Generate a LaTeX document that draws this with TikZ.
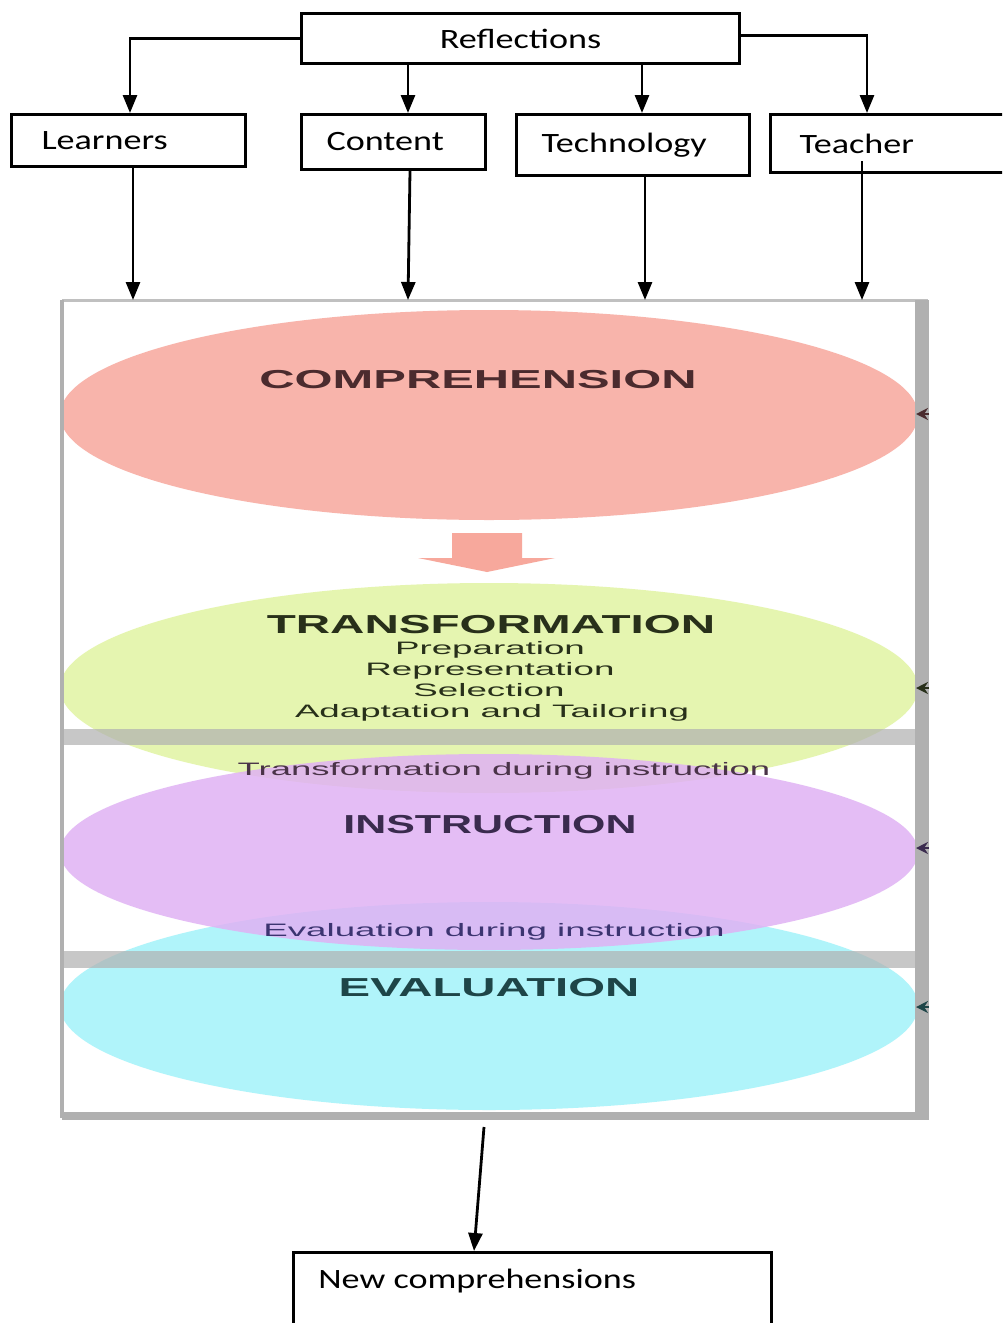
\documentclass[tikz,border=0pt]{standalone}
\usepackage{fontspec}
\usepackage{graphicx}
\usetikzlibrary{arrows.meta,calc}
\newfontfamily\boxfont{Carlito}
\newfontfamily\lblfont{Liberation Sans}
% horizontally widened text
\newcommand\hwide[2]{\scalebox{#1}[1]{#2}}
\newcommand\bx[1]{\scalebox{1.29}[1]{#1}}

\definecolor{pinkfill}{HTML}{F8B4AB}
\definecolor{pinkarrow}{HTML}{F7A89C}
\definecolor{greenfill}{HTML}{E4F5AC}
\definecolor{violetfill}{HTML}{E0B2F4}
\definecolor{cyanfill}{HTML}{ACF4FA}
\definecolor{panelgray}{HTML}{B0B0B0}
\definecolor{compink}{HTML}{4B2B2E}
\definecolor{transgreen}{HTML}{28301A}
\definecolor{instrviolet}{HTML}{3A2B4E}
\definecolor{tdiviolet}{HTML}{4A3348}
\definecolor{ediviolet}{HTML}{3B3470}
\definecolor{evalteal}{HTML}{1E4548}

\begin{document}
\begin{tikzpicture}[x=0.5pt,y=-0.5pt,
  box/.style={draw=black, line width=1.5pt, fill=white, anchor=north west,
    inner ysep=0pt, align=left, font=\boxfont\fontsize{14pt}{16pt}\selectfont},
  arr/.style={line width=1.4pt, -{Triangle[length=9pt,width=7pt]}},
  heading/.style={font=\lblfont\bfseries\fontsize{13pt}{15pt}\selectfont, anchor=base, inner sep=0pt},
  subline/.style={font=\lblfont\fontsize{9pt}{11pt}\selectfont, anchor=base, inner sep=0pt},
  tip/.style={line width=1pt, -{Stealth[length=6pt,width=6pt]}},
]
\useasboundingbox (0,0) rectangle (1002,1323);
\clip (0,0) rectangle (1002,1323);

% ---------- top boxes ----------
\node[box, minimum width=219pt, minimum height=25pt, text width=219pt, inner xsep=0pt, align=center]
  (refl) at (300,12) {\bx{Reflections}};
\node[box, minimum height=26pt, text width=87pt, inner xsep=15pt] (learn) at (10,113) {\bx{Learners}};
\node[box, minimum height=27.5pt, text width=67pt, inner xsep=12.5pt] (cont) at (300,113) {\bx{Content}};
\node[box, minimum height=30.5pt, text width=91.5pt, inner xsep=12.5pt] (tech) at (515,113) {\bx{Technology}};
\node[box, minimum height=29pt, text width=101pt, inner xsep=14.5pt] (teach) at (769,113) {\bx{Teacher}};

% ---------- phase panel ----------
\coordinate (ftop) at (62,300);
\fill[white] (62,300) rectangle (928,1118);

% phases
\fill[pinkfill] (489,415) ellipse [x radius=429, y radius=105];
\fill[greenfill, fill opacity=0.95] (489,688) ellipse [x radius=429, y radius=105];
\fill[cyanfill, fill opacity=0.95] (489,1006) ellipse [x radius=429, y radius=104];
\fill[violetfill, fill opacity=0.85] (489,852) ellipse [x radius=429, y radius=98];

% block arrow between comprehension and transformation
\fill[pinkarrow] (452,533) -- (522,533) -- (522,558) -- (555,558) -- (487,572)
  -- (418,558) -- (452,558) -- cycle;

% panel borders and dividers
\draw[panelgray!80, line width=1.5pt] (62,300) -- (928,300);
\draw[panelgray, line width=1.6pt] (62,300) -- (62,1118);
\fill[panelgray, opacity=0.7] (62,729) rectangle (928,745);
\fill[panelgray, opacity=0.7] (62,951) rectangle (928,968);
\fill[panelgray] (62,1112) rectangle (929,1120);
\fill[panelgray] (915,300) rectangle (929,1120);

% small tips at the right ends of the phases
\draw[tip, compink] (929,414) -- (916,414);
\draw[tip, transgreen] (929,688) -- (916,688);
\draw[tip, instrviolet] (929,848) -- (916,848);
\draw[tip, evalteal] (929,1007) -- (916,1007);

% phase labels
\node[heading, text=compink] (tcomp) at (478,388) {\hwide{1.88}{COMPREHENSION}};
\node[heading, text=transgreen] (ttrans) at (491,633) {\hwide{1.83}{TRANSFORMATION}};
\node[subline, text=transgreen] (tprep) at (490,654) {\hwide{2.04}{Preparation}};
\node[subline, text=transgreen] (trepr) at (490,675) {\hwide{2.04}{Representation}};
\node[subline, text=transgreen] (tsel) at (489,696) {\hwide{2.04}{Selection}};
\node[subline, text=transgreen] (tadap) at (492,717) {\hwide{2.04}{Adaptation and Tailoring}};
\node[subline, text=tdiviolet] (ttdi) at (504,775) {\hwide{2.03}{Transformation during instruction}};
\node[heading, text=instrviolet] (tinstr) at (490,833) {\hwide{1.65}{INSTRUCTION}};
\node[subline, text=ediviolet] (tedi) at (494,936) {\hwide{2.04}{Evaluation during instruction}};
\node[heading, text=evalteal] (teval) at (489,996) {\hwide{1.82}{EVALUATION}};

% ---------- connectors from Reflections ----------
\draw[arr] (refl.west) -| ($(learn.north west)+(120,0)$);
\coordinate (cin) at ($(cont.north west)+(108,0)$);
\draw[arr] (refl.south -| cin) -- (cin);
\coordinate (tin) at ($(tech.north west)+(127,0)$);
\draw[arr] (refl.south -| tin) -- (tin);
\draw[arr] ([yshift=1.5pt]refl.east) -| ($(teach.north west)+(98,0)$);

% ---------- connectors into the phase panel ----------
\coordinate (lout) at ($(learn.south west)+(123,0)$);
\draw[arr] (lout) -- (lout |- ftop);
\coordinate (cout) at ($(cont.south west)+(110,0)$);
\draw[arr] (cout) -- (408,300);
\coordinate (tout) at ($(tech.south west)+(130,0)$);
\draw[arr] (tout) -- (tout |- ftop);
\coordinate (hout) at ($(teach.south west)+(93,-13)$);
\draw[arr] (hout) -- (hout |- ftop);

% ---------- outcome ----------
\node[box, minimum width=239pt, minimum height=60pt, inner sep=0pt] (newc) at (292,1251) {};
\node[font=\boxfont\fontsize{14pt}{16pt}\selectfont, anchor=base west, inner sep=0pt]
  (newct) at (318,1288) {\bx{New comprehensions}};
\coordinate (fbot) at (484,1127);
\draw[arr] (fbot) -- ($(newc.north west)+(182,0)$);
\end{tikzpicture}
\end{document}
